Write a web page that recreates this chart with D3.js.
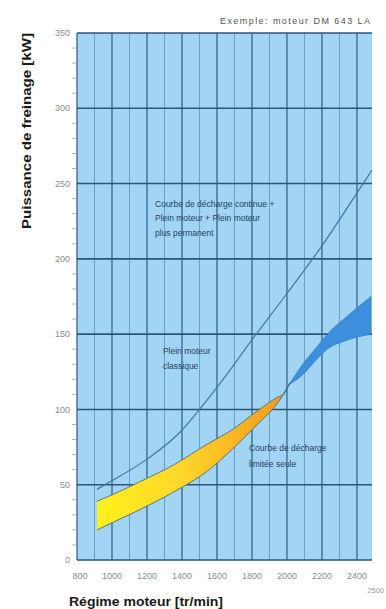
<!DOCTYPE html>
<html>
<head>
<meta charset="utf-8">
<script src="https://cdn.jsdelivr.net/npm/d3@7"></script>
<style>
  body { margin: 0; background: #fff; }
  svg { display: block; font-family: "Liberation Sans", Arial, sans-serif; }
</style>
</head>
<body>
<div id="chart"></div>
<script>
// axis ticks
const rpmTicks = [800, 1000, 1200, 1400, 1600, 1800, 2000, 2200, 2400];
const rpmMinor = [900, 1100, 1300, 1500, 1700, 1900, 2100, 2300];
const kwTicks = [0, 50, 100, 150, 200, 250, 300, 350];
const kwMinor = [10, 20, 30, 40, 60, 70, 80, 90, 110, 120, 130, 140, 160, 170, 180, 190,
  210, 220, 230, 240, 260, 270, 280, 290, 310, 320, 330, 340];

// propeller curve (kW vs rpm)
const helixRpm = [915, 990, 1200, 1390, 1500, 1635, 1805, 2000, 2190, 2435, 2486];
const helixKw = [47, 52, 67, 85, 100, 120, 147, 177, 207, 250, 259];

// yellow band : limited load
const lowRpm = [915, 1005, 1160, 1350, 1545, 1700, 1830, 1945, 1980];
const lowTop = [39, 43.5, 52, 63, 77, 87.5, 99, 108, 110];
const lowBottom = [20, 25, 33.5, 45, 59, 75, 90, 104, 110];

// blue band : continuous load
const highRpm = [2020, 2090, 2160, 2230, 2345, 2480];
const highTop = [118, 130, 140, 150, 162, 175];
const highBottom = [117, 123, 132, 140, 146, 150];

const title = 'Exemple: moteur DM 643 LA';
const yTitle = 'Puissance de freinage [kW]';
const xTitle = 'Régime moteur [tr/min]';
const cornerLabel = '2500';
const noteContinue = ['Courbe de décharge continue +', 'Plein moteur + Plein moteur', 'plus permanent'];
const notePlein = ['Plein moteur', 'classique'];
const noteLimit = ['Courbe de décharge', 'limitée seule'];

const W = 386, H = 609;
const margin = { top: 33, right: 14, bottom: 49, left: 77 };
const width = W - margin.left - margin.right;
const height = H - margin.top - margin.bottom;

const svg = d3.select('#chart').append('svg')
  .attr('width', W)
  .attr('height', H);

const defs = svg.append('defs');
const g = svg.append('g')
  .attr('transform', `translate(${margin.left},${margin.top})`);

const x = d3.scaleLinear().domain([800, 2486]).range([0, width]);
const y = d3.scaleLinear().domain([0, 350]).range([height, 0]);

// plot background
g.append('rect')
  .attr('width', width)
  .attr('height', height)
  .attr('fill', '#a2d5f4');

// minor vertical grid
g.selectAll('.vminor')
  .data(rpmMinor)
  .join('line')
  .attr('x1', d => x(d)).attr('x2', d => x(d))
  .attr('y1', 0).attr('y2', height)
  .attr('stroke', '#6497bd')
  .attr('stroke-width', 0.9);

// major vertical grid
g.selectAll('.vmajor')
  .data(rpmTicks)
  .join('line')
  .attr('x1', d => x(d)).attr('x2', d => x(d))
  .attr('y1', 0).attr('y2', height)
  .attr('stroke', '#34668c')
  .attr('stroke-width', 1.3);

// horizontal grid
g.selectAll('.hmajor')
  .data(kwTicks)
  .join('line')
  .attr('x1', 0).attr('x2', width)
  .attr('y1', d => y(d)).attr('y2', d => y(d))
  .attr('stroke', '#2a567c')
  .attr('stroke-width', 1.6);

// left minor ticks
g.selectAll('.yminor')
  .data(kwMinor)
  .join('line')
  .attr('x1', -5).attr('x2', -1)
  .attr('y1', d => y(d)).attr('y2', d => y(d))
  .attr('stroke', '#b5b5b5')
  .attr('stroke-width', 1);

// y tick labels
g.selectAll('.ylab')
  .data(kwTicks)
  .join('text')
  .attr('x', -7)
  .attr('y', d => y(d))
  .attr('dy', '0.35em')
  .attr('text-anchor', 'end')
  .attr('font-size', 9)
  .attr('fill', '#8c8c8c')
  .text(d => d);

// x tick labels
g.selectAll('.xlab')
  .data(rpmTicks)
  .join('text')
  .attr('x', d => x(d) + (d === 800 ? 3 : 0))
  .attr('y', height + 19)
  .attr('text-anchor', 'middle')
  .attr('font-size', 9)
  .attr('fill', '#8c8c8c')
  .text(d => d);

// yellow band
const grad = defs.append('linearGradient')
  .attr('id', 'lowGrad')
  .attr('gradientUnits', 'userSpaceOnUse')
  .attr('x1', x(lowRpm[0])).attr('x2', x(lowRpm[lowRpm.length - 1]))
  .attr('y1', 0).attr('y2', 0);
grad.append('stop').attr('offset', 0).attr('stop-color', '#fff21c');
grad.append('stop').attr('offset', 0.45).attr('stop-color', '#ffd62a');
grad.append('stop').attr('offset', 1).attr('stop-color', '#f39a1e');

const lowIdx = d3.range(lowRpm.length);
g.append('path')
  .datum(lowIdx)
  .attr('fill', 'url(#lowGrad)')
  .attr('d', d3.area()
    .x(i => x(lowRpm[i]))
    .y0(i => y(lowBottom[i]))
    .y1(i => y(lowTop[i]))
    .curve(d3.curveMonotoneX));

const edge = (rpm, kw) => d3.line()
  .x(i => x(rpm[i]))
  .y(i => y(kw[i]))
  .curve(d3.curveMonotoneX);

g.append('path').datum(lowIdx)
  .attr('fill', 'none').attr('stroke', '#4b6a80').attr('stroke-width', 0.9)
  .attr('d', edge(lowRpm, lowTop));
g.append('path').datum(lowIdx)
  .attr('fill', 'none').attr('stroke', '#4b6a80').attr('stroke-width', 0.9)
  .attr('d', edge(lowRpm, lowBottom));

// connector between the two bands
g.append('line')
  .attr('x1', x(lowRpm[lowRpm.length - 1]))
  .attr('y1', y(lowTop[lowTop.length - 1]))
  .attr('x2', x(highRpm[0]))
  .attr('y2', y(highTop[0]))
  .attr('stroke', '#3f6684')
  .attr('stroke-width', 1.2);

// blue band
const highIdx = d3.range(highRpm.length);
g.append('path')
  .datum(highIdx)
  .attr('fill', '#3b8fdc')
  .attr('stroke', '#3276b8')
  .attr('stroke-width', 0.6)
  .attr('d', d3.area()
    .x(i => x(highRpm[i]))
    .y0(i => y(highBottom[i]))
    .y1(i => y(highTop[i]))
    .curve(d3.curveMonotoneX));

// propeller curve
g.append('path')
  .datum(d3.range(helixRpm.length))
  .attr('fill', 'none')
  .attr('stroke', '#3e77a6')
  .attr('stroke-width', 1.2)
  .attr('d', edge(helixRpm, helixKw));

// annotations
function note(lines, rpm, kw, step) {
  g.append('text')
    .attr('x', x(rpm))
    .attr('y', y(kw))
    .attr('font-size', 8.5)
    .attr('fill', '#24405e')
    .selectAll('tspan')
    .data(lines)
    .join('tspan')
    .attr('x', x(rpm))
    .attr('dy', (d, i) => i === 0 ? 0 : step)
    .text(d => d);
}
note(noteContinue, 1246, 234.5, 14.5);
note(notePlein, 1291, 137, 15);
note(noteLimit, 1783, 72.5, 16);

// titles
svg.append('text')
  .attr('x', 370)
  .attr('y', 24)
  .attr('text-anchor', 'end')
  .attr('font-size', 9)
  .attr('textLength', 150)
  .attr('fill', '#555')
  .text(title);

svg.append('text')
  .attr('transform', 'translate(31,131) rotate(-90)')
  .attr('text-anchor', 'middle')
  .attr('font-size', 12.5)
  .attr('font-weight', 'bold')
  .attr('textLength', 196)
  .attr('lengthAdjust', 'spacingAndGlyphs')
  .attr('fill', '#1a1a1a')
  .text(yTitle);

svg.append('text')
  .attr('x', 69)
  .attr('y', 606)
  .attr('font-size', 12.5)
  .attr('font-weight', 'bold')
  .attr('textLength', 154)
  .attr('lengthAdjust', 'spacingAndGlyphs')
  .attr('fill', '#1a1a1a')
  .text(xTitle);

svg.append('text')
  .attr('x', 384)
  .attr('y', 593)
  .attr('text-anchor', 'end')
  .attr('font-size', 7.5)
  .attr('fill', '#999')
  .text(cornerLabel);
</script>
</body>
</html>
